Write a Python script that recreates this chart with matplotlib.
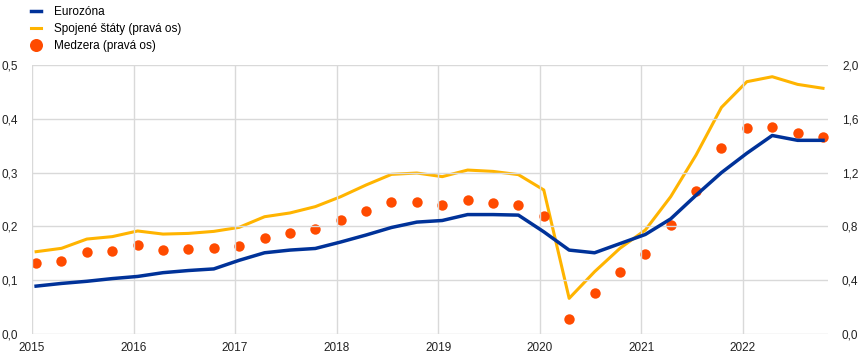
import numpy as np
import matplotlib
matplotlib.use('Agg')
import matplotlib.pyplot as plt
from matplotlib.ticker import FuncFormatter

plt.rcParams['font.family'] = ['Liberation Sans', 'DejaVu Sans']

# štvrťročné údaje 2015Q1 - 2022Q4
eurozona = [0.089, 0.094, 0.098, 0.103, 0.107, 0.114, 0.118, 0.121,
            0.137, 0.151, 0.156, 0.159, 0.171, 0.184, 0.198, 0.208,
            0.211, 0.222, 0.222, 0.221, 0.190, 0.156, 0.151, 0.168,
            0.185, 0.214, 0.258, 0.300, 0.336, 0.369, 0.360, 0.360]
usa = [0.612, 0.637, 0.706, 0.724, 0.766, 0.743, 0.748, 0.763,
       0.793, 0.872, 0.900, 0.947, 1.021, 1.108, 1.187, 1.197,
       1.170, 1.219, 1.209, 1.185, 1.071, 0.265, 0.463, 0.637,
       0.773, 1.021, 1.331, 1.685, 1.876, 1.913, 1.856, 1.827]
medzera = [0.525, 0.545, 0.607, 0.619, 0.662, 0.622, 0.630, 0.642,
           0.654, 0.716, 0.748, 0.783, 0.848, 0.917, 0.984, 0.984,
           0.959, 0.994, 0.976, 0.959, 0.877, 0.109, 0.305, 0.459,
           0.595, 0.810, 1.066, 1.385, 1.532, 1.537, 1.492, 1.465]
roky = ['2015', '2016', '2017', '2018', '2019', '2020', '2021', '2022']

blue = '#003299'
yellow = '#FFB400'
orange = '#FF4B00'
grid = '#d9d9d9'

x = np.arange(len(eurozona))
off = -0.16

fig = plt.figure(figsize=(8.68, 3.6), dpi=100)
ax = fig.add_axes([0.0369, 0.0722, 0.9171, 0.7472])
ax2 = ax.twinx()

l1, = ax.plot(x, eurozona, color=blue, lw=2.5, zorder=3)
l2, = ax2.plot(x, usa, color=yellow, lw=2.2, zorder=3)
l3, = ax2.plot(x, medzera, 'o', color=orange, ms=7.5, mec='none', zorder=4)

ax.set_xlim(off, 31.2)
ax.set_ylim(0, 0.5)
ax2.set_ylim(0, 2.0)
ax.set_xticks([off + 4 * i for i in range(len(roky))])
ax.set_xticklabels(roky)
ax.set_yticks(np.arange(0, 0.51, 0.1))
ax2.set_yticks(np.arange(0, 2.01, 0.4))
fmt = FuncFormatter(lambda v, p: f'{v:.1f}'.replace('.', ','))
ax.yaxis.set_major_formatter(fmt)
ax2.yaxis.set_major_formatter(fmt)

ax.grid(True, color=grid, lw=1.0, zorder=0)
for a in (ax, ax2):
    for s in a.spines.values():
        s.set_visible(False)
    a.tick_params(length=0, labelsize=8.5, colors='#222222')
ax.tick_params(axis='y', pad=10)
ax2.tick_params(axis='y', pad=10)
ax.tick_params(axis='x', pad=6)
ax.set_zorder(ax2.get_zorder() + 1)
ax.patch.set_visible(False)
ax2.set_zorder(0)

fig.legend([l1, l2, l3], ['Eurozóna', 'Spojené štáty (pravá os)', 'Medzera (pravá os)'],
           loc='upper left', bbox_to_anchor=(0.024, 1.012), frameon=False,
           fontsize=8.5, handlelength=0.8, handletextpad=1.1, labelspacing=0.42,
           markerscale=1.25)

plt.savefig('out.png', dpi=100)
